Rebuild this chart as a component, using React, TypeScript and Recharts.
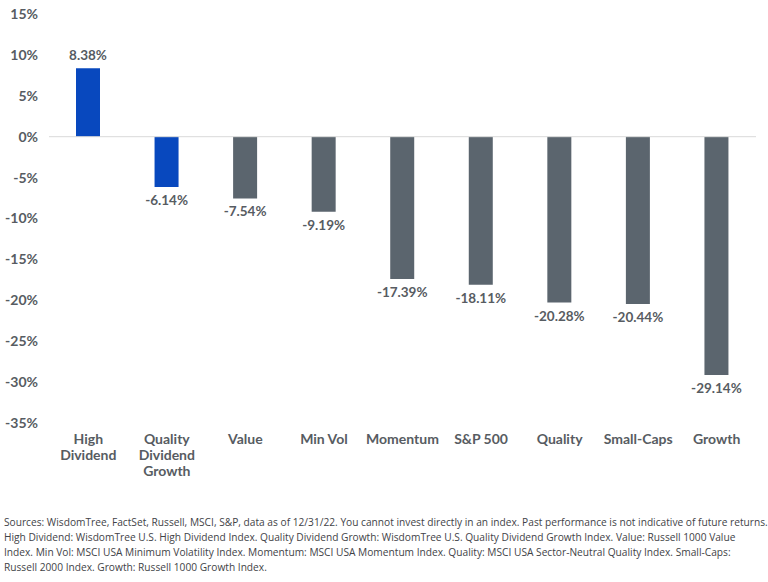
import React from "react";
import { BarChart, Bar, XAxis, YAxis, Cell, LabelList, ReferenceLine } from "recharts";

const categories = [
  "High Dividend",
  "Quality Dividend Growth",
  "Value",
  "Min Vol",
  "Momentum",
  "S&P 500",
  "Quality",
  "Small-Caps",
  "Growth",
];
// label lines under each bar
const categoryLines = [
  ["High", "Dividend"],
  ["Quality", "Dividend", "Growth"],
  ["Value"],
  ["Min Vol"],
  ["Momentum"],
  ["S&P 500"],
  ["Quality"],
  ["Small-Caps"],
  ["Growth"],
];
const returns = [8.38, -6.14, -7.54, -9.19, -17.39, -18.11, -20.28, -20.44, -29.14];
const highlighted = ["High Dividend", "Quality Dividend Growth"];
const yTicks = [-35, -30, -25, -20, -15, -10, -5, 0, 5, 10, 15];

const footnote = [
  "Sources: WisdomTree, FactSet, Russell, MSCI, S&P, data as of 12/31/22. You cannot invest directly in an index. Past performance is not indicative of future returns.",
  "High Dividend: WisdomTree U.S. High Dividend Index. Quality Dividend Growth: WisdomTree U.S. Quality Dividend Growth Index. Value: Russell 1000 Value",
  "Index. Min Vol: MSCI USA Minimum Volatility Index. Momentum: MSCI USA Momentum Index. Quality: MSCI USA Sector-Neutral Quality Index. Small-Caps:",
  "Russell 2000 Index. Growth: Russell 1000 Growth Index.",
];

const data = categories.map((name, i) => ({ name, value: returns[i] }));

const BLUE = "#0848BE";
const GRAY = "#5B656E";
const TEXT = "#575C62";
const FONT = "Lato, 'Open Sans', sans-serif";

const CategoryTick = (props: any) => {
  const { x, y, index } = props;
  const lines = categoryLines[index] || [];
  return (
    <text x={x} y={y} textAnchor="middle" fill={TEXT} fontFamily={FONT} fontWeight={700} fontSize={14}>
      {lines.map((l, i) => (
        <tspan key={i} x={x} dy={i === 0 ? 13 : 16}>
          {l}
        </tspan>
      ))}
    </text>
  );
};

const ValueLabel = (props: any) => {
  const { x, y, width, height, value } = props;
  const cx = x + width / 2;
  const top = Math.min(y, y + height);
  const bottom = Math.max(y, y + height);
  const ty = value >= 0 ? top - 8 : bottom + 18;
  return (
    <text x={cx} y={ty} textAnchor="middle" fill={TEXT} fontFamily={FONT} fontWeight={700} fontSize={13.5}>
      {value.toFixed(2)}%
    </text>
  );
};

export default function App() {
  return (
    <div style={{ position: "absolute", left: 0, top: 0, width: 768, height: 582, background: "#fff", overflow: "hidden" }}>
      <BarChart
        width={768}
        height={490}
        data={data}
        margin={{ top: 14, right: 12, left: 0, bottom: 0 }}
      >
        <XAxis dataKey="name" axisLine={false} tickLine={false} interval={0} tick={<CategoryTick />} height={67} />
        <YAxis
          width={49}
          domain={[-35, 15]}
          ticks={yTicks}
          axisLine={false}
          tickLine={false}
          tickMargin={5}
          tickFormatter={(v: number) => `${v}%`}
          tick={{ fill: TEXT, fontFamily: FONT, fontWeight: 700, fontSize: 14 }}
        />
        <ReferenceLine y={0} stroke="#D9D9D9" strokeWidth={1} />
        <Bar dataKey="value" barSize={24} isAnimationActive={false}>
          {data.map((d) => (
            <Cell key={d.name} fill={highlighted.includes(d.name) ? BLUE : GRAY} />
          ))}
          <LabelList dataKey="value" content={<ValueLabel />} />
        </Bar>
      </BarChart>
      {/* condensed source note */}
      <div
        style={{
          position: "absolute",
          left: 4,
          top: 514,
          fontFamily: "'Open Sans', sans-serif",
          fontSize: 11.5,
          lineHeight: "15px",
          color: "#3F4347",
          whiteSpace: "nowrap",
          transform: "scaleX(0.885)",
          transformOrigin: "left top",
        }}
      >
        {footnote.map((l, i) => (
          <div key={i}>{l}</div>
        ))}
      </div>
    </div>
  );
}
